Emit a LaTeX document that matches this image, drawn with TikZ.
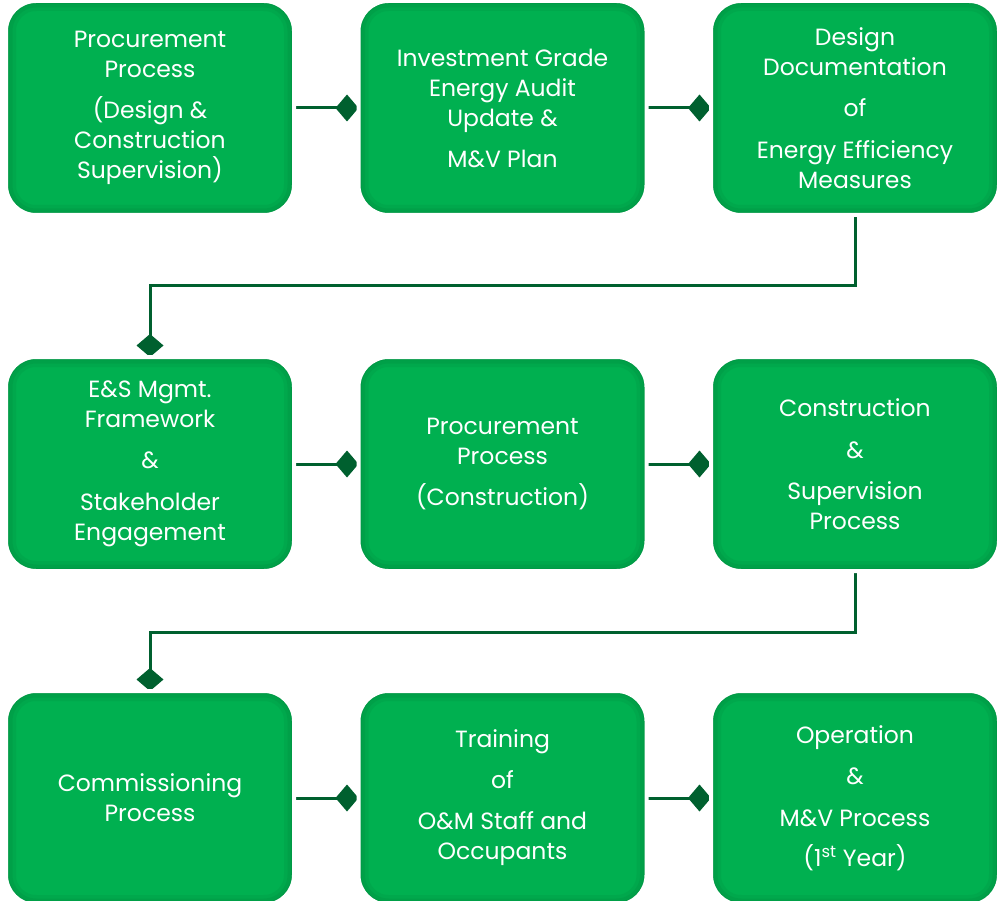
\documentclass[tikz,border=0pt]{standalone}
\usepackage{fontspec}
\setmainfont{Poppins}
\usetikzlibrary{arrows.meta}
\definecolor{boxgreen}{HTML}{00B050}
\definecolor{edgegreen}{HTML}{007A38}
\definecolor{linkgreen}{HTML}{00602F}
\pgfdeclarelayer{bg}
\pgfsetlayers{bg,main}
\tikzset{
  stage/.style={rectangle, rounded corners=30pt, fill=boxgreen, draw=white,
    line width=4pt, outer sep=0pt, minimum width=288pt, minimum height=214pt,
    path picture={
      \foreach \w/\o in {20/0.14,13/0.16,6/0.18}{
        \draw[edgegreen, opacity=\o, line width=\w pt, rounded corners=30pt]
          (path picture bounding box.south west) rectangle
          (path picture bounding box.north east);
      }
    }},
  label/.style={text=white, align=center, font=\fontsize{23.5}{30}\selectfont},
  link/.style={draw=linkgreen, line width=3pt,
    -{Diamond[length=23pt,width=27pt]}},
}
\begin{document}
\begin{tikzpicture}[x=1pt,y=-1pt]
\useasboundingbox (0,0) rectangle (1004,901);

% row 1
\node[stage] (b1) at (150,108) {};
\node[stage] (b2) at (502.5,108) {};
\node[stage] (b3) at (855,108) {};
% row 2
\node[stage] (b4) at (150,464) {};
\node[stage] (b5) at (502.5,464) {};
\node[stage] (b6) at (855,464) {};
% row 3
\node[stage] (b7) at (150,798) {};
\node[stage] (b8) at (502.5,798) {};
\node[stage] (b9) at (855,798) {};

% box texts
\node[label] (t1) at (b1) {Procurement\\Process\\[11pt](Design \&\\Construction\\Supervision)};
\node[label] (t2) at (b2) {Investment Grade\\Energy Audit\\Update \&\\[11pt]M\&V Plan};
\node[label] (t3) at (b3) {Design\\Documentation\\[11pt]of\\[12pt]Energy Efficiency\\Measures};
\node[label] (t4) at (b4) {E\&S Mgmt.\\Framework\\[11pt]\&\\[12pt]Stakeholder\\Engagement};
\node[label] (t5) at (b5) {Procurement\\Process\\[11pt](Construction)};
\node[label] (t6) at (b6) {Construction\\[12pt]\&\\[11pt]Supervision\\Process};
\node[label] (t7) at (b7) {Commissioning\\Process};
\node[label] (t8) at (b8) {Training\\[11pt]of\\[11pt]O\&M Staff and\\Occupants};
\node[label] (t9) at (b9) {Operation\\[11pt]\&\\[12pt]M\&V Process\\[10pt](1\textsuperscript{st} Year)};

% connectors
\begin{pgfonlayer}{bg}
  \draw[link] (b1.east) -- (b2.west);
  \draw[link] (b2.east) -- (b3.west);
  \draw[link] (b3.south) -- ++(0,71) -| (b4.north);
  \draw[link] (b4.east) -- (b5.west);
  \draw[link] (b5.east) -- (b6.west);
  \draw[link] (b6.south) -- ++(0,61) -| (b7.north);
  \draw[link] (b7.east) -- (b8.west);
  \draw[link] (b8.east) -- (b9.west);
\end{pgfonlayer}
\end{tikzpicture}
\end{document}
